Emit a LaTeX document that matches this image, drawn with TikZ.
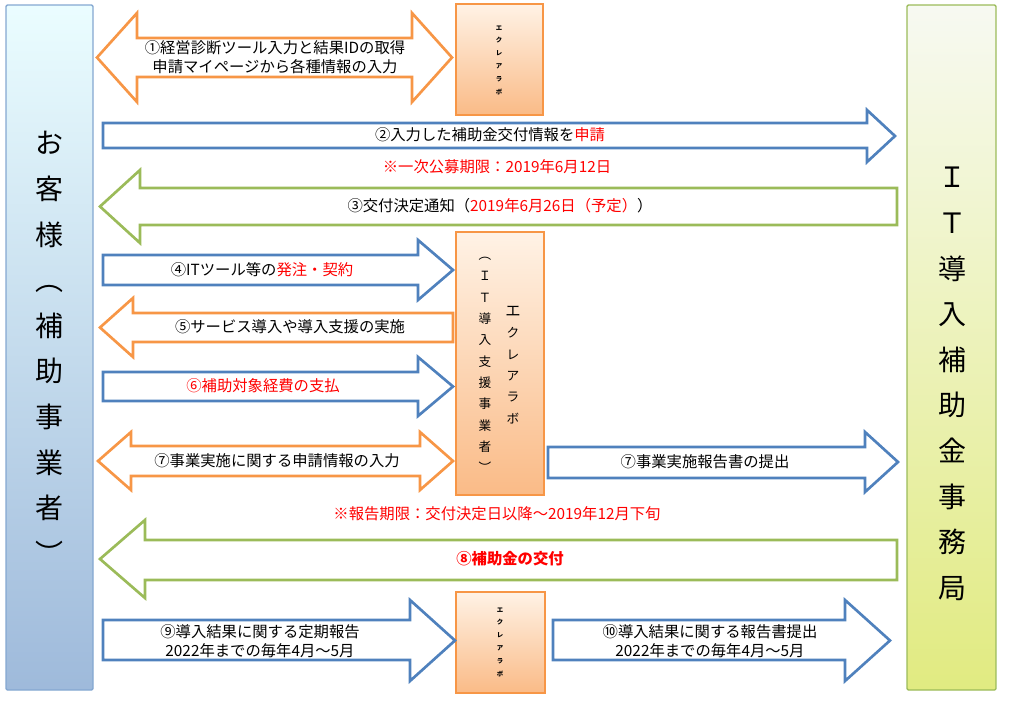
\documentclass[tikz,border=0pt]{standalone}
\usepackage{fontspec}
\setmainfont{Noto Sans CJK JP}
\usetikzlibrary{positioning}
\definecolor{ablue}{HTML}{4F81BD}
\definecolor{aorange}{HTML}{F79646}
\definecolor{agreen}{HTML}{9BBB59}
\definecolor{ared}{HTML}{FF0000}
% right arrow: x1 x2 ytop ybot shafttop shaftbot head
\newcommand\rarr[8]{\draw[#8] (#1,#5) -- ({#2-#7},#5) -- ({#2-#7},#3) -- (#2,{(#3+#4)/2}) -- ({#2-#7},#4) -- ({#2-#7},#6) -- (#1,#6) -- cycle;}
\newcommand\larr[8]{\draw[#8] (#2,#5) -- ({#1+#7},#5) -- ({#1+#7},#3) -- (#1,{(#3+#4)/2}) -- ({#1+#7},#4) -- ({#1+#7},#6) -- (#2,#6) -- cycle;}
\newcommand\darr[8]{\draw[#8] ({#1+#7},#5) -- ({#2-#7},#5) -- ({#2-#7},#3) -- (#2,{(#3+#4)/2}) -- ({#2-#7},#4) -- ({#2-#7},#6) -- ({#1+#7},#6) -- ({#1+#7},#4) -- (#1,{(#3+#4)/2}) -- ({#1+#7},#3) -- cycle;}
\newcommand\red[1]{\textcolor{ared}{#1}}
\begin{document}
\begin{tikzpicture}[x=0.75pt,y=-0.75pt,
  party/.style={draw,line width=1pt,rounded corners=1pt},
  labo/.style={draw=aorange,line width=1pt,top color=orange!10,bottom color=aorange!65},
  arrblue/.style={draw=ablue,fill=white,line width=2pt,line join=miter},
  arrorange/.style={draw=aorange,fill=white,line width=2pt,line join=miter},
  arrgreen/.style={draw=agreen,fill=white,line width=2pt,line join=miter},
  lbl/.style={font=\fontsize{11.5}{14}\selectfont,align=center,inner sep=0pt},
  note/.style={font=\fontsize{11.5}{14}\selectfont,text=ared,inner sep=0pt},
  bigv/.style={font=\fontsize{21}{34.2}\selectfont,align=center,inner sep=0pt},
  tinyv/.style={font=\fontsize{4.8}{9.6}\bfseries\selectfont,align=center,inner sep=0pt},
  midv/.style={font=\fontsize{9.5}{16}\selectfont,align=center,inner sep=0pt}]
\useasboundingbox (0,0) rectangle (1024,704);
% parties
\draw[party,draw=ablue!70,top color=blue!10!cyan!8,bottom color=ablue!55] (6,5) rectangle (93,690);
\draw[party,draw=agreen,top color=agreen!8,bottom color=agreen!50!yellow!60] (907,5) rectangle (996,690);
\node[bigv] (client) at (50,348) {お\\客\\様\\︵\\補\\助\\事\\業\\者\\︶};
\node[bigv] (office) at (952,384) {Ｉ\\Ｔ\\導\\入\\補\\助\\金\\事\\務\\局};
% labo boxes
\draw[labo] (456,4) rectangle (543,115);
\node[tinyv] (labo1) at (499,60) {エ\\ク\\レ\\ア\\ラ\\ボ};
\draw[labo] (456,232) rectangle (544,495);
\node[midv] (labo2a) at (513,365) {\fontsize{11.5}{18.5}\selectfont エ\\ク\\レ\\ア\\ラ\\ボ};
\node[midv] (labo2b) at (485,365) {︵\\Ｉ\\Ｔ\\導\\入\\支\\援\\事\\業\\者\\︶};
\draw[labo] (456,592) rectangle (545,693);
\node[tinyv] (labo3) at (500,642) {エ\\ク\\レ\\ア\\ラ\\ボ};
% arrows
\darr{97}{452}{13}{102}{38}{77}{40}{arrorange}
\node[lbl] (a1) at (275,57) {①経営診断ツール入力と結果IDの取得\\申請マイページから各種情報の入力};
\rarr{103}{895}{110}{162}{123}{148}{28}{arrblue}
\node[lbl] (a2) at (490,135) {②入力した補助金交付情報を\red{申請}};
\node[note] (n1) at (497,167) {※一次公募期限：2019年6月12日};
\larr{100}{897}{170}{243}{188}{225}{40}{arrgreen}
\node[lbl] (a3) at (500,206) {③交付決定通知（\red{2019年6月26日（予定）}）};
\rarr{103}{453}{240}{300}{255}{285}{35}{arrblue}
\node[lbl] (a4) at (262,270) {④ITツール等の\red{発注・契約}};
\larr{100}{453}{298}{357}{313}{342}{33}{arrorange}
\node[lbl] (a5) at (290,327) {⑤サービス導入や導入支援の実施};
\rarr{103}{453}{357}{416}{372}{401}{35}{arrblue}
\node[lbl] (a6) at (263,386) {\red{⑥補助対象経費の支払}};
\darr{98}{453}{432}{490}{446}{476}{33}{arrorange}
\node[lbl] (a7) at (277,461) {⑦事業実施に関する申請情報の入力};
\rarr{548}{898}{432}{492}{447}{478}{33}{arrblue}
\node[lbl] (a7b) at (705,462) {⑦事業実施報告書の提出};
\node[note] (n2) at (497,514) {※報告期限：交付決定日以降～2019年12月下旬};
\larr{100}{897}{520}{598}{540}{580}{45}{arrgreen}
\node[lbl,font=\fontsize{11.5}{14}\bfseries\selectfont] (a8) at (510,559) {\red{⑧補助金の交付}};
\rarr{103}{455}{600}{681}{620}{660}{45}{arrblue}
\node[lbl] (a9) at (260,641) {⑨導入結果に関する定期報告\\2022年までの毎年4月～5月};
\rarr{553}{890}{600}{681}{620}{660}{45}{arrblue}
\node[lbl] (a10) at (710,641) {⑩導入結果に関する報告書提出\\2022年までの毎年4月～5月};
\end{tikzpicture}
\end{document}
